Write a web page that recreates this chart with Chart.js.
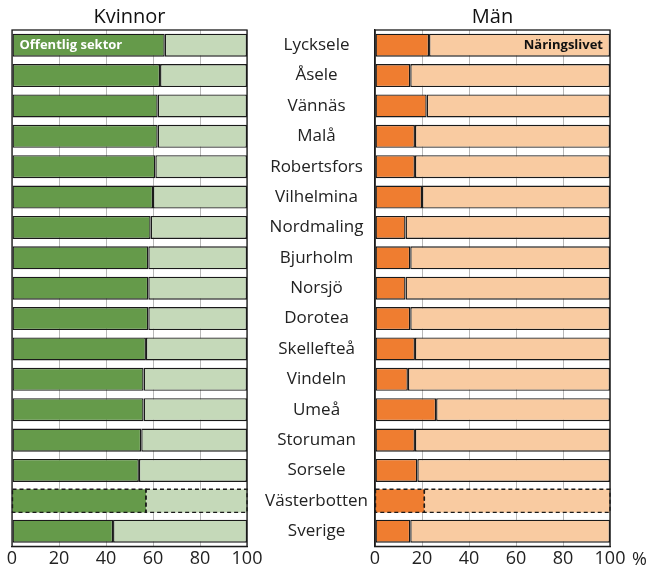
<!DOCTYPE html>
<html>
<head>
<meta charset="utf-8">
<script src="https://cdn.jsdelivr.net/npm/chart.js@4"></script>
<style>
    html, body { margin: 0; padding: 0; background: #fff; }
    #wrap { position: relative; width: 654px; height: 572px; }
    canvas { position: absolute; top: 0; }
</style>
</head>
<body>
<div id="wrap">
    <canvas id="chart-women" width="268" height="572" style="left:0"></canvas>
    <canvas id="chart-men" width="404" height="572" style="left:250px"></canvas>
</div>
<script>
// Data (share of employed, %)
const municipalities = ['Lycksele', 'Åsele', 'Vännäs', 'Malå', 'Robertsfors', 'Vilhelmina', 'Nordmaling',
    'Bjurholm', 'Norsjö', 'Dorotea', 'Skellefteå', 'Vindeln', 'Umeå', 'Storuman', 'Sorsele',
    'Västerbotten', 'Sverige'];
const womenPublic = [65, 63, 62, 62, 61, 60, 59, 58, 58, 58, 57, 56, 56, 55, 54, 57, 43];
const womenBusiness = [35, 37, 38, 38, 39, 40, 41, 42, 42, 42, 43, 44, 44, 45, 46, 43, 57];
const menPublic = [23, 15, 22, 17, 17, 20, 13, 15, 13, 15, 17, 14, 26, 17, 18, 21, 15];
const menBusiness = [77, 85, 78, 83, 83, 80, 87, 85, 87, 85, 83, 86, 74, 83, 82, 79, 85];
const xTicks = [0, 20, 40, 60, 80, 100];

const DASHED = municipalities.indexOf('Västerbotten');
const FONT = '"Open Sans", "Noto Sans", sans-serif';
const BORDER = '#1a1a1a';

const COLORS = {
    green: '#659a4a',
    greenLight: '#c5d9b9',
    orange: '#ef7d30',
    orangeLight: '#f9cba1'
};

Chart.defaults.font.family = FONT;
Chart.defaults.color = '#222';

/**
 * Panel plugin: title, frame, dashed bar, in-bar label, unit
 */
const panelPlugin = {
    id: 'panel',
    afterDatasetsDraw(chart, args, opts) {
        const ctx = chart.ctx;
        const area = chart.chartArea;
        ctx.save();

        // dashed outline for the county bar
        chart.data.datasets.forEach((ds, i) => {
            const bar = chart.getDatasetMeta(i).data[DASHED];
            if (!bar) return;
            const left = Math.min(bar.x, bar.base);
            const w = Math.abs(bar.x - bar.base);
            ctx.strokeStyle = BORDER;
            ctx.lineWidth = 1.4;
            ctx.setLineDash([4, 3]);
            ctx.strokeRect(left, bar.y - bar.height / 2, w, bar.height);
        });
        ctx.setLineDash([]);

        // plot frame
        ctx.strokeStyle = BORDER;
        ctx.lineWidth = 1.3;
        ctx.strokeRect(area.left, area.top, area.right - area.left, area.bottom - area.top);

        // label inside first bar
        if (opts.inLabel) {
            const ds = opts.inLabel.dataset;
            const bar = chart.getDatasetMeta(ds).data[0];
            ctx.font = 'bold 13px ' + FONT;
            ctx.fillStyle = opts.inLabel.color;
            ctx.textBaseline = 'middle';
            if (opts.inLabel.align === 'left') {
                ctx.textAlign = 'left';
                ctx.fillText(opts.inLabel.text, Math.min(bar.x, bar.base) + 7, bar.y);
            } else {
                ctx.textAlign = 'right';
                ctx.fillText(opts.inLabel.text, Math.max(bar.x, bar.base) - 7, bar.y);
            }
        }

        // title over plot
        ctx.font = '20px ' + FONT;
        ctx.fillStyle = '#111';
        ctx.textAlign = 'center';
        ctx.textBaseline = 'middle';
        ctx.fillText(opts.title, (area.left + area.right) / 2, 17);

        // unit after the last tick
        if (opts.unit) {
            ctx.font = '18px ' + FONT;
            ctx.fillStyle = '#222';
            ctx.textAlign = 'left';
            ctx.fillText(opts.unit, area.right + 22, area.bottom + 13);
        }
        ctx.restore();
    }
};

function barDataset(data, color) {
    return {
        data: data,
        backgroundColor: color,
        borderColor: BORDER,
        borderWidth: (c) => c.dataIndex === DASHED ? 0 : 1.4,
        borderSkipped: false,
        barPercentage: 0.76,
        categoryPercentage: 1
    };
}

function xScale() {
    return {
        stacked: true,
        min: 0,
        max: 100,
        afterBuildTicks: (scale) => { scale.ticks = xTicks.map(v => ({ value: v })); },
        grid: { color: '#b8b8b8', lineWidth: 1, drawTicks: false },
        border: { display: true, color: BORDER, width: 1.3 },
        ticks: { padding: 2, font: { size: 18 }, color: '#222', maxRotation: 0, autoSkip: false }
    };
}

function createPanel(canvasId, first, second, colors, panel, showLabels, padding) {
    const ctx = document.getElementById(canvasId).getContext('2d');
    const yScale = {
        stacked: true,
        display: showLabels,
        grid: { display: false, drawTicks: false },
        border: { display: true, color: BORDER, width: 1.3 },
        ticks: { crossAlign: 'center', padding: 7, font: { size: 17 }, color: '#222', autoSkip: false }
    };
    if (showLabels) {
        yScale.afterFit = (scale) => { scale.width = 125; };
    }
    return new Chart(ctx, {
        type: 'bar',
        data: {
            labels: municipalities,
            datasets: [barDataset(first, colors[0]), barDataset(second, colors[1])]
        },
        options: {
            indexAxis: 'y',
            responsive: false,
            animation: false,
            layout: { padding: padding },
            plugins: {
                legend: { display: false },
                tooltip: { enabled: false },
                panel: panel
            },
            scales: {
                x: xScale(),
                y: yScale
            }
        },
        plugins: [panelPlugin]
    });
}

createPanel('chart-women', womenPublic, womenBusiness, [COLORS.green, COLORS.greenLight], {
    title: 'Kvinnor',
    inLabel: { text: 'Offentlig sektor', dataset: 0, align: 'left', color: '#fff' }
}, false, { left: 12, right: 21, top: 30, bottom: 0 });

createPanel('chart-men', menPublic, menBusiness, [COLORS.orange, COLORS.orangeLight], {
    title: 'Män',
    inLabel: { text: 'Näringslivet', dataset: 1, align: 'right', color: '#111' },
    unit: '%'
}, true, { left: 0, right: 44, top: 30, bottom: 0 });
</script>
</body>
</html>
